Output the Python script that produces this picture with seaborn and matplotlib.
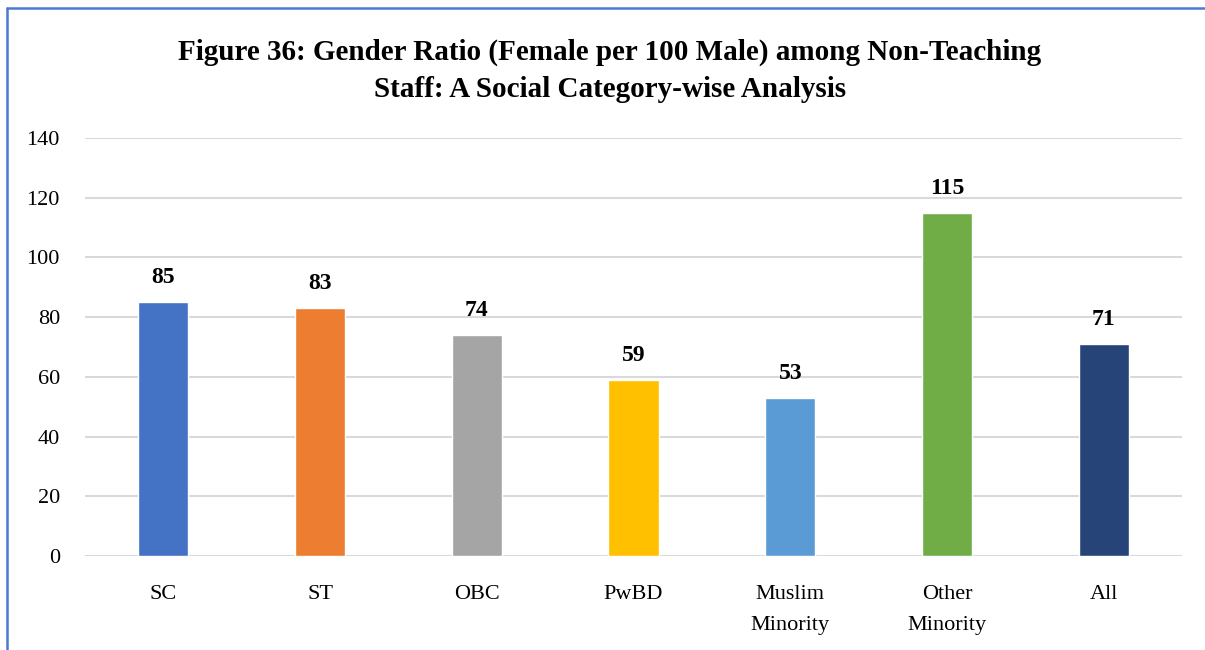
import matplotlib
matplotlib.use("Agg")
import matplotlib.pyplot as plt
from matplotlib.lines import Line2D
import seaborn as sns
import pandas as pd

# Gender ratio (female per 100 male) among non-teaching staff
categories = ["SC", "ST", "OBC", "PwBD", "Muslim\nMinority", "Other\nMinority", "All"]
ratios = [85, 83, 74, 59, 53, 115, 71]
bar_colors = ["#4472C4", "#ED7D31", "#A5A5A5", "#FFC000", "#5B9BD5", "#70AD47", "#264478"]
y_ticks = [0, 20, 40, 60, 80, 100, 120, 140]

sns.set_theme(style="white")
plt.rcParams["font.family"] = ["Liberation Serif", "DejaVu Serif"]

df = pd.DataFrame({"category": categories, "ratio": ratios})

fig = plt.figure(figsize=(12.05, 6.5), dpi=100)
ax = fig.add_axes([0.0705, 0.1446, 0.9105, 0.6431])

sns.barplot(data=df, x="category", y="ratio", hue="category",
            palette=bar_colors, legend=False, width=0.32, saturation=1,
            ax=ax, zorder=3)

ax.set_ylim(0, 140)
ax.set_xlim(-0.5, len(categories) - 0.5)
ax.set_yticks(y_ticks)
ax.set_yticklabels([str(t) for t in y_ticks], fontsize=16, color="black")
ax.tick_params(axis="y", length=0, pad=18)
ax.tick_params(axis="x", length=0, pad=21)
for lbl in ax.get_xticklabels():
    lbl.set_fontsize(16)
    lbl.set_color("black")
    lbl.set_linespacing(1.85)
    lbl.set_verticalalignment("top")
ax.set_xlabel("")
ax.set_ylabel("")

ax.grid(axis="y", color="#D9D9D9", linewidth=1.5, zorder=0)
ax.grid(axis="x", visible=False)
for s in ax.spines.values():
    s.set_visible(False)

for i, v in enumerate(ratios):
    ax.annotate(str(v), (i, v), xytext=(0, 10), textcoords="offset points",
                ha="center", va="bottom", fontsize=17, fontweight="bold",
                color="black")

fig.text(0.506, 0.891,
         "Figure 36: Gender Ratio (Female per 100 Male) among Non-Teaching\n"
         "Staff: A Social Category-wise Analysis",
         ha="center", va="center", fontsize=21, fontweight="bold",
         linespacing=1.5, color="black")

# Frame around the chart
frame_color = "#4A7BD0"
fig.add_artist(Line2D([0.0062, 0.0062], [0.0, 0.988], transform=fig.transFigure,
                      color=frame_color, linewidth=1.8))
fig.add_artist(Line2D([0.0062, 1.0], [0.988, 0.988], transform=fig.transFigure,
                      color=frame_color, linewidth=1.8))

fig.savefig("out.png", dpi=100, facecolor="white")
